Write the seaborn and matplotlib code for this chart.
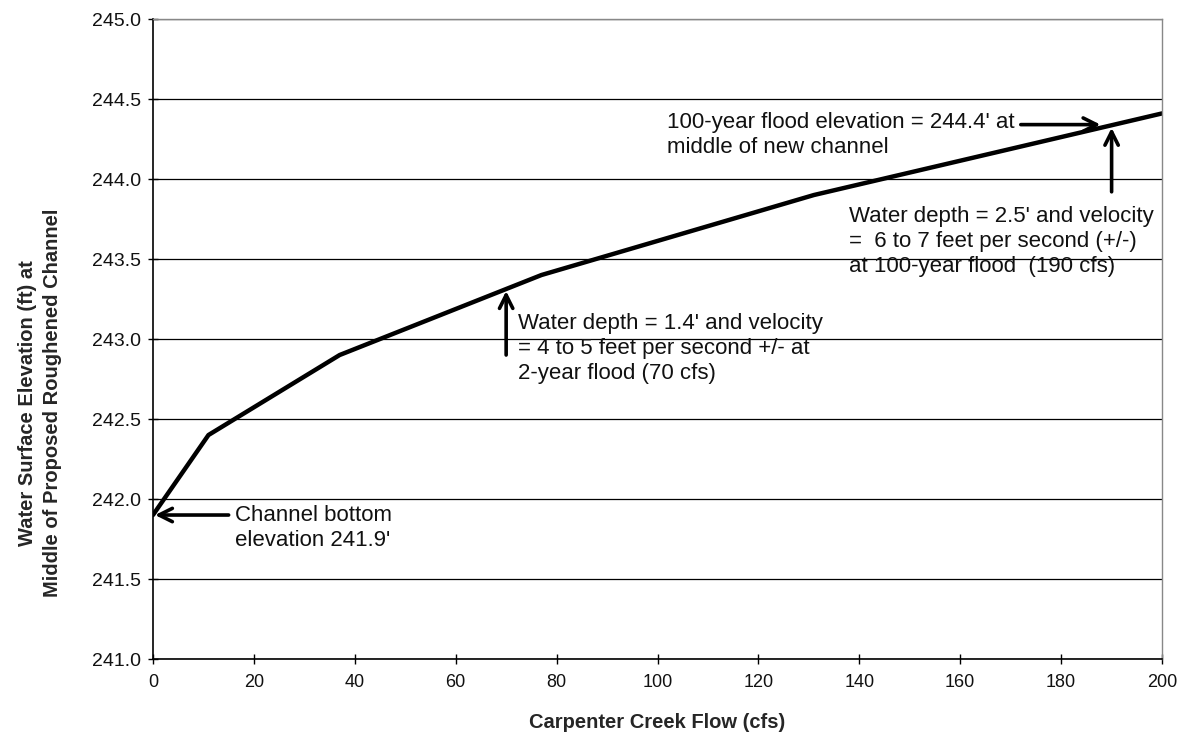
import numpy as np
import pandas as pd
import seaborn as sns
import matplotlib.pyplot as plt

# curve
flow_cfs = [0, 11, 37, 77, 131, 200]
elevation_ft = [241.9, 242.4, 242.9, 243.4, 243.9, 244.41]

x_ticks = [0, 20, 40, 60, 80, 100, 120, 140, 160, 180, 200]
y_ticks = [241.0, 241.5, 242.0, 242.5, 243.0, 243.5, 244.0, 244.5, 245.0]

sns.set_theme(style="white")
plt.rcParams['font.family'] = ['Liberation Sans', 'DejaVu Sans']

df = pd.DataFrame({"flow": flow_cfs, "elev": elevation_ft})

fig = plt.figure(figsize=(11.83, 7.37), dpi=100)
ax = fig.add_axes([0.1293, 0.1058, 0.8530, 0.8684])

sns.lineplot(data=df, x="flow", y="elev", color="black", linewidth=3.2, ax=ax)

ax.set_xlim(0, 200)
ax.set_ylim(241, 245)
ax.set_xticks(x_ticks)
ax.set_yticks(y_ticks)
ax.set_xticklabels([str(v) for v in x_ticks], fontsize=13)
ax.set_yticklabels([f"{v:.1f}" for v in y_ticks], fontsize=14)
ax.tick_params(axis="both", direction="inout", length=7, width=1, color="black",
               labelcolor="#111111", bottom=True, left=True)
ax.tick_params(axis="y", pad=5)
ax.tick_params(axis="x", pad=7)
ax.grid(axis="y", color="black", linewidth=0.9)
ax.grid(axis="x", visible=False)

for side in ["left", "bottom"]:
    ax.spines[side].set_color("black")
    ax.spines[side].set_linewidth(1.2)
for side in ["top", "right"]:
    ax.spines[side].set_color("#888888")
    ax.spines[side].set_linewidth(1.0)

ax.set_xlabel("Carpenter Creek Flow (cfs)", fontsize=14.5, fontweight="bold",
              labelpad=16)
ax.set_ylabel("Water Surface Elevation (ft) at\nMiddle of Proposed Roughened Channel",
              fontsize=14.5, fontweight="bold", linespacing=1.35, va="center")
ax.yaxis.set_label_coords(-0.112, 0.40)

arrow = dict(arrowstyle="->,head_length=0.8,head_width=0.4", color="black",
             lw=2.6, shrinkA=0, shrinkB=0)
txt = dict(fontsize=16, color="#111111", linespacing=1.25)

# channel bottom
ax.annotate("", xy=(0.4, 241.9), xytext=(15.0, 241.9), arrowprops=arrow)
ax.text(16.2, 241.965, "Channel bottom\nelevation 241.9'", va="top", ha="left", **txt)

# 2-year flood
ax.annotate("", xy=(70, 243.3), xytext=(70, 242.9), arrowprops=arrow)
ax.text(72.3, 243.16, "Water depth = 1.4' and velocity\n= 4 to 5 feet per second +/- at\n2-year flood (70 cfs)",
        va="top", ha="left", **txt)

# 100-year flood elevation
ax.annotate("", xy=(187.8, 244.34), xytext=(172.0, 244.34), arrowprops=arrow)
ax.text(101.9, 244.42, "100-year flood elevation = 244.4' at\nmiddle of new channel",
        va="top", ha="left", **txt)

# 100-year flood depth
ax.annotate("", xy=(190, 244.32), xytext=(190, 243.92), arrowprops=arrow)
ax.text(138.0, 243.83, "Water depth = 2.5' and velocity\n=  6 to 7 feet per second (+/-)\nat 100-year flood  (190 cfs)",
        va="top", ha="left", **txt)

fig.savefig("out.png", dpi=100)
